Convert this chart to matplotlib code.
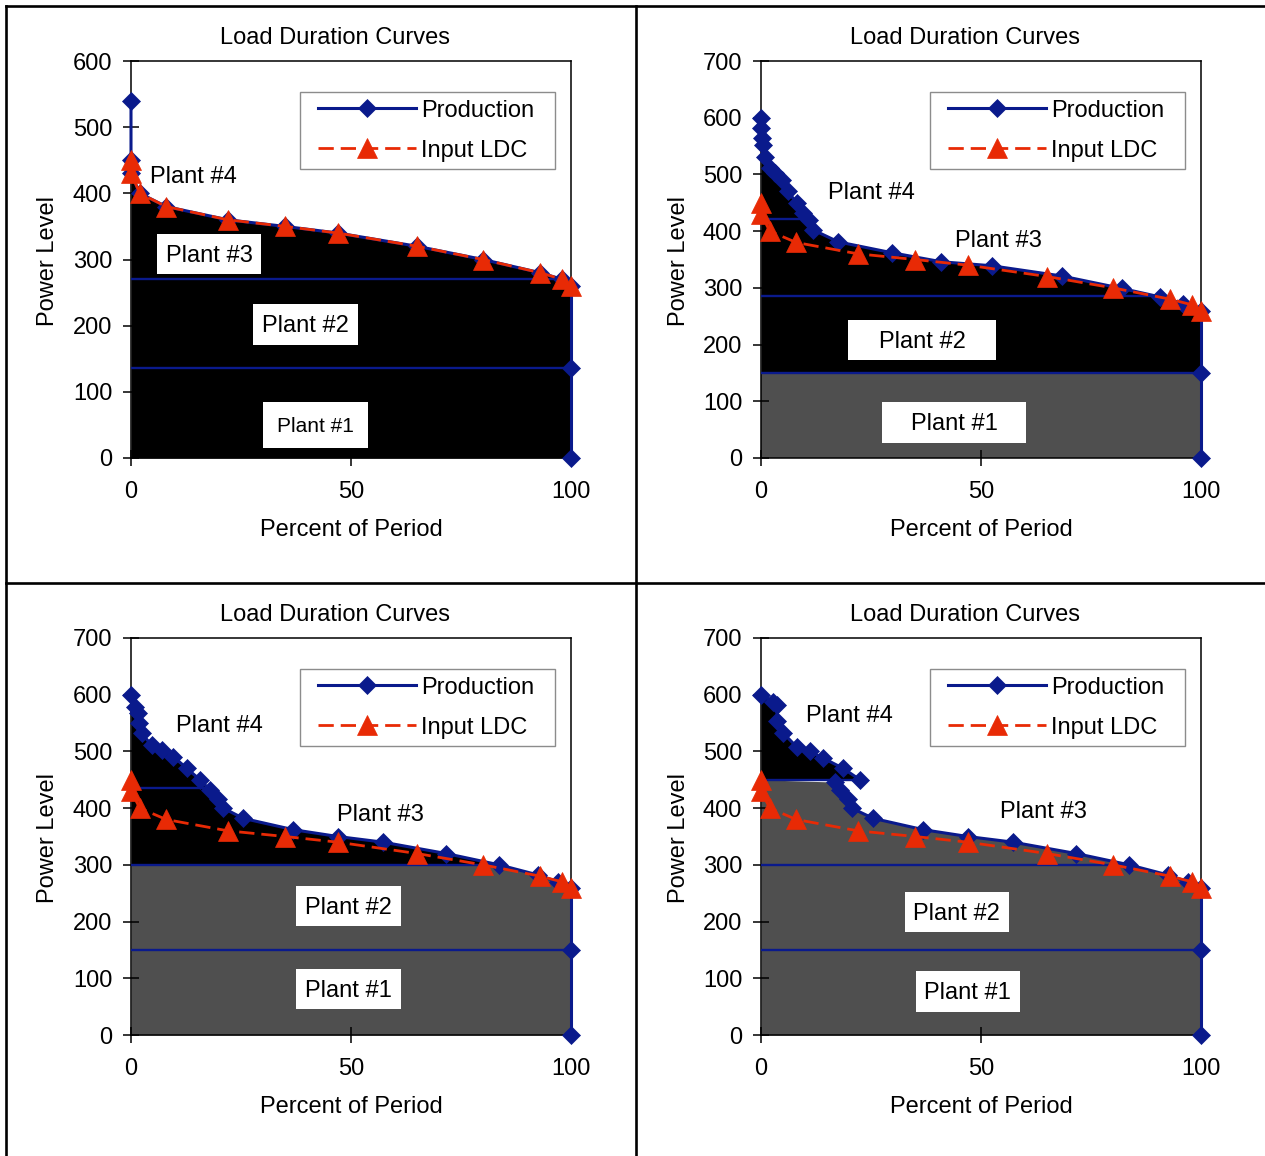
import numpy as np
import matplotlib
matplotlib.use("Agg")
import matplotlib.pyplot as plt
from matplotlib.patches import Rectangle
from matplotlib.lines import Line2D
from matplotlib.transforms import offset_copy

plt.rcParams['font.family'] = ['Liberation Sans', 'DejaVu Sans']

# ---------------- data ----------------
x_ticks = [0, 50, 100]
title_text = "Load Duration Curves"
xlabel_text = "Percent of Period"
ylabel_text = "Power Level"
legend_labels = ["Production", "Input LDC"]

# Input load duration curve (same in all panels)
ldc_x = [0, 0, 2, 8, 22, 35, 47, 65, 80, 93, 98, 100]
ldc_y = [450, 430, 400, 380, 360, 350, 340, 320, 300, 280, 270, 260]

# Panel 1
p1_prod_x = [0, 0, 0, 2, 8, 22, 35, 47, 65, 80, 93, 98, 100]
p1_prod_y = [540, 450, 430, 400, 380, 360, 350, 340, 320, 300, 280, 270, 260]
p1_levels = [136, 271]

# Panel 2
p2_prod_x = [0, 0, 0.3, 0.4, 0.9, 2, 3.2, 4.7, 6.2, 8.1, 9.6, 10.8, 11.9, 17.6,
             29.7, 41, 52.4, 68.3, 82, 90.7, 96, 100]
p2_prod_y = [600, 581, 564, 552, 531, 511, 502, 490, 470, 449, 432, 420, 402, 381,
             362, 346, 339, 321, 299, 284, 272, 260]
p2_levels = [150, 286, 421]

# Panel 3
p3_prod_x = [0, 0.9, 1.7, 1.8, 2.4, 4.7, 7, 9.6, 12.7, 15.7, 17.95, 19.8, 21, 25.5,
             36.9, 47, 57.3, 71.6, 83.7, 92.6, 97, 100]
p3_prod_y = [600, 579, 567, 550, 532, 511, 503, 491, 470, 450, 432, 417, 400, 382,
             362, 350, 340, 320, 300, 282, 270, 260]
p3_levels = [150, 300, 435]

# Panel 4 (plant #4 segment and the rest)
p4_top_x = [0, 2.8, 3.6, 3.7, 5.1, 8.1, 11.1, 14.2, 18.7, 22.5]
p4_top_y = [600, 588, 582, 553, 532, 508, 500, 488, 470, 450]
p4_low_x = [16.8, 17.95, 19.8, 20.6, 25.5, 36.9, 47, 57.3, 71.6, 83.7, 92.6, 97, 100]
p4_low_y = [446, 432, 417, 400, 382, 362, 350, 340, 320, 300, 282, 270, 260]
p4_levels = [150, 300, 450]

y_max = [600, 700, 700, 700]

# ---------------- style ----------------
BLUE = '#0a1a8c'
RED = '#e82a05'
GRAY = '#4f4f4f'
FS = 17
W, H = 1265, 1156
DMS = 8.8   # diamond marker size
TMS = 15    # triangle marker size
PLW = 2.2   # production line width

fig = plt.figure(figsize=(12.65, 11.56), dpi=100)

# table grid lines
grid_lw = 1.9
fig.add_artist(Line2D([6 / W, 6 / W], [0, 1 - 6 / H], transform=fig.transFigure, color='black', lw=grid_lw))
fig.add_artist(Line2D([6 / W, 1], [1 - 6 / H, 1 - 6 / H], transform=fig.transFigure, color='black', lw=grid_lw))
fig.add_artist(Line2D([636 / W, 636 / W], [0, 1 - 6 / H], transform=fig.transFigure, color='black', lw=grid_lw))
fig.add_artist(Line2D([6 / W, 1], [1 - 583 / H, 1 - 583 / H], transform=fig.transFigure, color='black', lw=grid_lw))

origins = [(131, 61), (761, 61), (131, 638), (761, 638)]
title_pos = [(334.5, 38), (964.5, 38), (334.5, 615), (964.5, 615)]
xlabel_pos = [(351, 530), (981, 530), (351, 1107), (981, 1107)]
ylabel_pos = [(48, 261), (679, 261), (48, 838), (679, 838)]

labels = [
    [("Plant #4", 14.2, 427, None, FS), ("Plant #3", 17.8, 308, (23.7, 60.5), FS),
     ("Plant #2", 39.7, 202, (23.9, 62), FS), ("Plant #1", 41.9, 50, (23.7, 70.4), 15)],
    [("Plant #4", 25.0, 471, None, FS), ("Plant #3", 54.0, 387, None, FS),
     ("Plant #2", 36.6, 208, (33.5, 70.5), FS), ("Plant #1", 43.9, 62.6, (32.7, 73.4), FS)],
    [("Plant #4", 20.2, 548, None, FS), ("Plant #3", 56.7, 392, None, FS),
     ("Plant #2", 49.4, 228, (23.9, 70.5), FS), ("Plant #1", 49.4, 80.6, (23.9, 70.5), FS)],
    [("Plant #4", 20.2, 566, None, FS), ("Plant #3", 64.3, 397, None, FS),
     ("Plant #2", 44.5, 216.5, (23.7, 71), FS), ("Plant #1", 47.0, 77, (23.7, 71.8), FS)],
]


def crossing(level, cx, cy):
    cx = np.asarray(cx, float)
    cy = np.asarray(cy, float)
    if level <= cy.min():
        return cx[-1]
    return float(np.interp(level, cy[::-1], cx[::-1]))


def prod_line(ax, x, y):
    ax.plot(x, y, color=BLUE, lw=PLW, marker='D', ms=DMS, mfc=BLUE, mec=BLUE,
            mew=0.5, clip_on=False, zorder=4)


for i in range(4):
    l, t = origins[i]
    ax = fig.add_axes([l / W, 1 - (t + 397) / H, 440 / W, 397 / H])
    ymax = y_max[i]
    ax.set_xlim(0, 100)
    ax.set_ylim(0, ymax)
    ax.set_xticks(x_ticks)
    ax.set_yticks(range(0, ymax + 1, 100))
    ax.tick_params(axis='both', direction='inout', length=11, width=1.1,
                   labelsize=FS, color='black')
    ax.tick_params(axis='y', pad=8)
    ax.tick_params(axis='x', pad=11)
    for sp in ax.spines.values():
        sp.set_color('black')
        sp.set_linewidth(1.1)

    if i == 0:
        x, y = np.array(p1_prod_x, float), np.array(p1_prod_y, float)
        levels = p1_levels
        ax.fill_between(x, 0, y, color='black', lw=0, zorder=1)
        for L in levels:
            ax.plot([0, crossing(L, x, y)], [L, L], color=BLUE, lw=1.7, zorder=3)
        prod_line(ax, x, y)
    elif i in (1, 2):
        if i == 1:
            x, y = np.array(p2_prod_x, float), np.array(p2_prod_y, float)
            levels = p2_levels
            g = levels[0]
        else:
            x, y = np.array(p3_prod_x, float), np.array(p3_prod_y, float)
            levels = p3_levels
            g = levels[1]
        ax.fill_between(x, 0, np.minimum(y, g), color=GRAY, lw=0, zorder=1)
        ax.fill_between(x, g, np.maximum(y, g), color='black', lw=0, zorder=1)
        for L in levels:
            ax.plot([0, crossing(L, x, y)], [L, L], color=BLUE, lw=1.7, zorder=3)
        prod_line(ax, x, y)
    else:
        tx, ty = np.array(p4_top_x, float), np.array(p4_top_y, float)
        lx, ly = np.array(p4_low_x, float), np.array(p4_low_y, float)
        levels = p4_levels
        top_level = levels[-1]
        gx = np.r_[0, lx]
        gy = np.r_[top_level, ly]
        ax.fill_between(gx, 0, gy, color=GRAY, lw=0, zorder=1)
        ax.fill_between(tx, top_level, ty, color='black', lw=0, zorder=1)
        for L in levels[:-1]:
            ax.plot([0, crossing(L, lx, ly)], [L, L], color=BLUE, lw=1.7, zorder=3)
        ax.plot([0, crossing(top_level, tx, ty)], [top_level, top_level], color=BLUE, lw=1.7, zorder=3)
        prod_line(ax, tx, ty)
        prod_line(ax, lx, ly)
        y = ly

    # right edge line down to zero
    ax.plot([100, 100, 100], [y[-1], levels[0], 0], color=BLUE, lw=PLW, marker='D',
            ms=DMS, mew=0.5, markevery=[1, 2], clip_on=False, zorder=4)

    # input LDC
    ax.plot(ldc_x, ldc_y, color=RED, lw=2, ls=(0, (5.5, 2.5)), marker='^', ms=TMS,
            mfc=RED, mec=RED, mew=0.5, clip_on=False, zorder=5)

    # plant labels
    down = offset_copy(ax.transData, fig=fig, x=0, y=-2, units='dots')
    for (s, lxp, lyp, box, fs) in labels[i]:
        if box is not None:
            bw, bh = box
            ax.add_patch(Rectangle((lxp - bw / 2, lyp - bh / 2), bw, bh, facecolor='white',
                                   edgecolor='none', zorder=6))
        ax.text(lxp, lyp, s, ha='center', va='center', fontsize=fs, zorder=7,
                transform=down)

    # legend (drawn manually to match the box geometry)
    x0, x1, y0, y1 = 0.3841, 0.9636, 0.7272, 0.9227
    ax.add_patch(Rectangle((x0, y0), x1 - x0, y1 - y0, transform=ax.transAxes,
                           facecolor='white', edgecolor='#8c8c8c', lw=1.0, zorder=8,
                           clip_on=False))
    r1, r2 = 0.8816, 0.7809
    hx0, hx1, hxm = 0.425, 0.6477, 0.5364
    ax.plot([hx0, hx1], [r1, r1], transform=ax.transAxes, color=BLUE, lw=PLW,
            zorder=9, clip_on=False)
    ax.plot([hxm], [r1], transform=ax.transAxes, color=BLUE, marker='D', ms=DMS,
            mew=0.5, zorder=9, clip_on=False)
    ax.plot([hx0, hx1], [r2, r2], transform=ax.transAxes, color=RED, lw=2,
            ls=(0, (5.5, 2.5)), zorder=9, clip_on=False)
    ax.plot([hxm], [r2], transform=ax.transAxes, color=RED, marker='^', ms=TMS,
            mew=0.5, zorder=9, clip_on=False)
    tdown = offset_copy(ax.transAxes, fig=fig, x=0, y=-3, units='dots')
    ax.text(0.659, r1, legend_labels[0], transform=tdown, ha='left', va='center',
            fontsize=FS, zorder=10)
    ax.text(0.659, r2, legend_labels[1], transform=tdown, ha='left', va='center',
            fontsize=FS, zorder=10)

    # titles and axis labels
    tx_, ty_ = title_pos[i]
    fig.text(tx_ / W, 1 - ty_ / H, title_text, ha='center', va='center', fontsize=FS)
    xx, xy = xlabel_pos[i]
    fig.text(xx / W, 1 - xy / H, xlabel_text, ha='center', va='center', fontsize=FS)
    yx, yy = ylabel_pos[i]
    fig.text(yx / W, 1 - yy / H, ylabel_text, ha='center', va='center', fontsize=FS,
             rotation=90)

fig.savefig("out.png", dpi=100)
